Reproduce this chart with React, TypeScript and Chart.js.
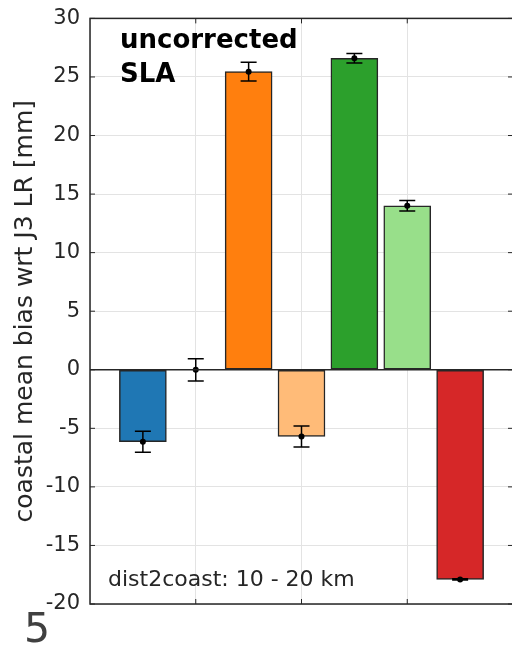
import React, { useEffect, useRef } from "react";
import { Chart, registerables } from "chart.js";

Chart.register(...registerables);

const positions = [1, 2, 3, 4, 5, 6, 7];
const biasValues = [-6.15, 0, 25.45, -5.7, 26.6, 14.0, -17.9];
const errorValues = [0.9, 0.95, 0.8, 0.9, 0.4, 0.45, 0.05];
const barColors = ["#1f77b4", "#1f77b4", "#ff7f0e", "#ffbb78", "#2ca02c", "#98df8a", "#d62728"];
const showBar = [true, false, true, true, true, true, true];
const yTicks = [-20, -15, -10, -5, 0, 5, 10, 15, 20, 25, 30];
const yLabel = "coastal mean bias wrt J3 LR [mm]";
const titleLines = ["uncorrected", "SLA"];
const footnote = "dist2coast: 10 - 20 km";
const panelLabel = "5";

const FONT = "'DejaVu Sans', sans-serif";
const AXIS_COLOR = "#262626";

const overlayPlugin = {
  id: "overlay",
  afterDatasetsDraw(chart: any) {
    const { ctx, chartArea, scales } = chart;
    const xs = scales.x;
    const ys = scales.y;
    ctx.save();
    // error bars
    ctx.strokeStyle = "#000";
    ctx.fillStyle = "#000";
    ctx.lineWidth = 1.5;
    for (let i = 0; i < positions.length; i++) {
      const x = xs.getPixelForValue(positions[i]);
      const y = ys.getPixelForValue(biasValues[i]);
      const yt = ys.getPixelForValue(biasValues[i] + errorValues[i]);
      const yb = ys.getPixelForValue(biasValues[i] - errorValues[i]);
      ctx.beginPath();
      ctx.moveTo(x, yt);
      ctx.lineTo(x, yb);
      ctx.moveTo(x - 8, yt);
      ctx.lineTo(x + 8, yt);
      ctx.moveTo(x - 8, yb);
      ctx.lineTo(x + 8, yb);
      ctx.stroke();
      ctx.beginPath();
      ctx.arc(x, y, 3, 0, Math.PI * 2);
      ctx.fill();
    }
    // box
    ctx.strokeStyle = AXIS_COLOR;
    ctx.lineWidth = 1.5;
    ctx.strokeRect(chartArea.left, chartArea.top, chartArea.right - chartArea.left, chartArea.bottom - chartArea.top);
    // zero baseline
    const y0 = ys.getPixelForValue(0);
    ctx.beginPath();
    ctx.moveTo(chartArea.left, y0);
    ctx.lineTo(chartArea.right, y0);
    ctx.stroke();
    // ticks
    ctx.lineWidth = 1;
    for (const v of yTicks) {
      const y = ys.getPixelForValue(v);
      ctx.beginPath();
      ctx.moveTo(chartArea.left, y);
      ctx.lineTo(chartArea.left + 5, y);
      ctx.moveTo(chartArea.right, y);
      ctx.lineTo(chartArea.right - 5, y);
      ctx.stroke();
    }
    for (const v of [2, 4, 6]) {
      const x = xs.getPixelForValue(v);
      ctx.beginPath();
      ctx.moveTo(x, chartArea.bottom);
      ctx.lineTo(x, chartArea.bottom - 5);
      ctx.moveTo(x, chartArea.top);
      ctx.lineTo(x, chartArea.top + 5);
      ctx.stroke();
    }
    // texts
    ctx.fillStyle = "#000";
    ctx.textAlign = "left";
    ctx.textBaseline = "alphabetic";
    ctx.font = `bold 26px ${FONT}`;
    ctx.fillText(titleLines[0], 120, 48);
    ctx.fillText(titleLines[1], 120, 82);
    ctx.fillStyle = AXIS_COLOR;
    ctx.font = `22px ${FONT}`;
    ctx.fillText(footnote, 108, 586);
    ctx.fillStyle = "#404040";
    ctx.font = `41px ${FONT}`;
    ctx.fillText(panelLabel, 24, 642);
    ctx.restore();
  },
};

export default function App() {
  const ref = useRef<HTMLCanvasElement>(null);
  useEffect(() => {
    if (!ref.current) return;
    const chart = new Chart(ref.current, {
      type: "bar",
      data: {
        datasets: [
          {
            data: positions.map((p, i) => ({ x: p, y: showBar[i] ? biasValues[i] : null })) as any,
            backgroundColor: barColors,
            borderColor: AXIS_COLOR,
            borderWidth: 1.5,
            borderSkipped: false,
            barThickness: 47,
          },
        ],
      },
      options: {
        responsive: false,
        animation: false,
        layout: { padding: { top: 18, bottom: 41, left: 0, right: 1 } },
        plugins: { legend: { display: false }, tooltip: { enabled: false } },
        scales: {
          x: {
            type: "linear",
            min: 0,
            max: 8,
            offset: false,
            ticks: { display: false, stepSize: 2 },
            grid: { color: "#e3e3e3", drawTicks: false, offset: false },
            border: { display: false },
          },
          y: {
            min: -20,
            max: 30,
            ticks: {
              stepSize: 5,
              padding: 10,
              color: AXIS_COLOR,
              font: { family: FONT, size: 21, lineHeight: 0.8 },
            },
            grid: { color: "#e3e3e3", drawTicks: false },
            border: { display: false },
            title: {
              display: true,
              text: yLabel,
              color: AXIS_COLOR,
              font: { family: FONT, size: 25 },
              padding: { top: 10, bottom: 0 },
            },
            afterFit(scale: any) {
              scale.width = 90;
            },
          },
        },
      },
      plugins: [overlayPlugin],
    });
    return () => chart.destroy();
  }, []);
  return (
    <div style={{ position: "absolute", left: 0, top: 0, width: 512, height: 645, overflow: "hidden", background: "#fff" }}>
      <canvas ref={ref} width={514} height={645} style={{ display: "block" }} />
    </div>
  );
}
